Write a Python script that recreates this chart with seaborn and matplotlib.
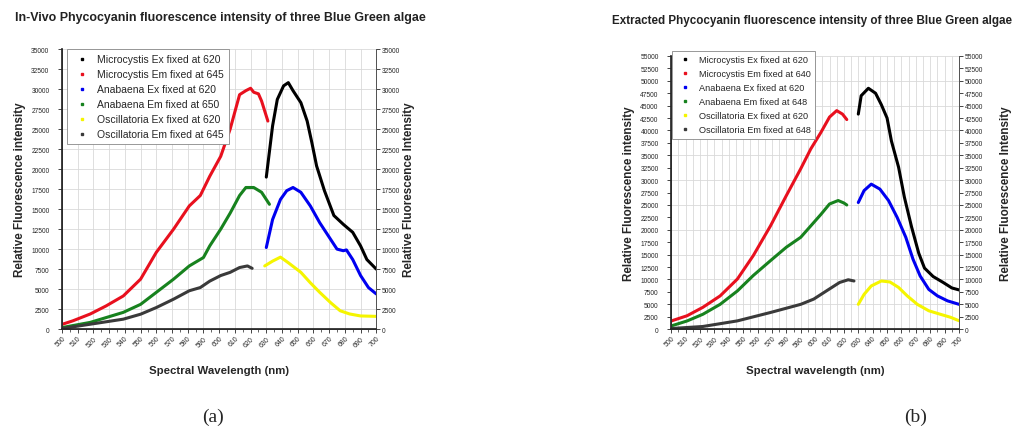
import matplotlib
matplotlib.use("Agg")
import matplotlib.pyplot as plt
from matplotlib.lines import Line2D
from matplotlib.ticker import MultipleLocator
import seaborn as sns

sns.set_theme(style="ticks")
plt.rcParams['font.family'] = ['Liberation Sans', 'DejaVu Sans']

# ---- (a) In-Vivo data ----
a_mic_em_x = [500, 507, 518, 528, 539, 550, 560, 571, 581, 588, 594, 601, 607, 613, 617, 620, 622, 625, 627, 631]
a_mic_em_y = [600, 1050, 1900, 2900, 4150, 6250, 9600, 12500, 15400, 16700, 19100, 21600, 25000, 29300, 29800, 30100, 29600, 29400, 28500, 26000]
a_ana_em_x = [500, 518, 539, 550, 560, 571, 581, 590, 594, 601, 607, 613, 617, 622, 627, 632]
a_ana_em_y = [200, 850, 2100, 3100, 4600, 6250, 7900, 8950, 10400, 12500, 14500, 16700, 17700, 17700, 17100, 15600]
a_osc_em_x = [500, 518, 539, 550, 560, 571, 581, 588, 594, 601, 607, 613, 618, 621]
a_osc_em_y = [80, 620, 1250, 1870, 2700, 3750, 4800, 5200, 6000, 6700, 7100, 7700, 7900, 7600]
a_mic_ex_x = [630, 634, 637, 641, 644, 647, 652, 656, 659, 662, 667, 673, 679, 685, 690, 694, 700]
a_mic_ex_y = [19000, 25400, 28700, 30400, 30800, 29800, 28300, 26000, 23300, 20400, 17300, 14200, 13100, 12100, 10400, 8700, 7500]
a_ana_ex_x = [630, 634, 639, 643, 647, 652, 658, 664, 671, 675, 679, 681, 685, 690, 695, 700]
a_ana_ex_y = [10200, 13700, 16200, 17300, 17700, 17100, 15400, 13300, 11200, 10000, 9800, 9900, 8700, 6700, 5200, 4400]
a_osc_ex_x = [629, 634, 639, 644, 652, 658, 664, 671, 677, 683, 690, 700]
a_osc_ex_y = [7900, 8500, 9000, 8300, 7100, 5800, 4600, 3300, 2300, 1900, 1650, 1600]
a_labels = ['Microcystis Ex fixed at 620', 'Microcystis Em fixed at 645', 'Anabaena Ex fixed at 620',
            'Anabaena Em fixed at 650', 'Oscillatoria Ex fixed at 620', 'Oscillatoria Em fixed at 645']

# ---- (b) Extracted data ----
b_mic_em_x = [500, 511, 522, 534, 546, 557, 569, 580, 590, 597, 604, 610, 615, 619, 622]
b_mic_em_y = [1650, 2700, 4400, 6700, 10100, 14800, 20800, 26900, 32300, 36300, 39600, 42700, 44000, 43300, 42200]
b_ana_em_x = [500, 511, 522, 534, 546, 557, 569, 580, 590, 597, 604, 610, 616, 620, 622]
b_ana_em_y = [650, 1650, 3000, 5000, 7700, 10800, 13800, 16500, 18500, 20800, 23100, 25200, 25900, 25400, 25000]
b_osc_em_x = [500, 522, 546, 569, 590, 599, 608, 617, 623, 627]
b_osc_em_y = [130, 540, 1670, 3360, 5000, 6050, 7730, 9400, 9950, 9700]
b_mic_ex_x = [630, 632, 637, 642, 646, 650, 653, 658, 662, 667, 672, 676, 682, 689, 695, 700]
b_mic_ex_y = [43300, 47000, 48500, 47500, 45200, 42500, 37900, 32600, 26600, 20600, 15300, 12300, 10600, 9400, 8300, 7900]
b_ana_ex_x = [630, 634, 639, 645, 651, 657, 663, 668, 673, 679, 685, 692, 700]
b_ana_ex_y = [25500, 27900, 29200, 28200, 25900, 22500, 18500, 14100, 10700, 8000, 6700, 5700, 5000]
b_osc_ex_x = [630, 634, 639, 646, 652, 658, 664, 671, 679, 687, 694, 700]
b_osc_ex_y = [5000, 7000, 8700, 9700, 9500, 8400, 6700, 5000, 3700, 3000, 2400, 1700]
b_labels = ['Microcystis Ex fixed at 620', 'Microcystis Em fixed at 640', 'Anabaena Ex fixed at 620',
            'Anabaena Em fixed at 648', 'Oscillatoria Ex fixed at 620', 'Oscillatoria Em fixed at 648']

# legend order: Mic Ex, Mic Em, Ana Ex, Ana Em, Osc Ex, Osc Em
colors = ['#000000', '#e8101e', '#0000f0', '#17821e', '#f5f500', '#3a3a3a']


def draw_panel(rect, series, labels, ymax, hgrid, vgrid, title, title_x, title_y, title_size,
               xlabel, leg_anchor, leg_size, rpad):
    ax = fig.add_axes(rect)
    for (xs, ys), c in zip(series, colors):
        sns.lineplot(x=xs, y=ys, ax=ax, color=c, lw=2.2, legend=False)
    ax.set_xlim(500, 700)
    ax.set_ylim(0, ymax)
    ax.xaxis.set_major_locator(MultipleLocator(10))
    ax.xaxis.set_minor_locator(MultipleLocator(5))
    ax.yaxis.set_major_locator(MultipleLocator(2500))
    for v in range(500, 701, vgrid):
        ax.axvline(v, color='#d9d9d9', lw=0.6, zorder=0)
    for h in range(0, ymax + 1, hgrid):
        ax.axhline(h, color='#d9d9d9', lw=0.6, zorder=0)
    ax.tick_params(axis='x', which='major', labelsize=5, length=3, width=0.6, pad=1)
    ax.tick_params(axis='x', which='minor', length=2, width=0.5)
    ax.tick_params(axis='y', labelsize=4.8, length=3, width=0.6, pad=6)
    for lab in ax.get_xticklabels():
        lab.set_rotation(45)
        lab.set_ha('right')
        lab.set_rotation_mode('anchor')
    ax.spines['top'].set_visible(False)
    for s in ['left', 'bottom', 'right']:
        ax.spines[s].set_color('#555555')
        ax.spines[s].set_linewidth(0.7)
    ax.set_xlabel(xlabel, fontsize=8.2, fontweight='bold', labelpad=12)
    ax.set_ylabel('Relative Fluorescence intensity', fontsize=8.4, fontweight='bold', labelpad=4)

    ax2 = ax.twinx()
    ax2.set_ylim(0, ymax)
    ax2.yaxis.set_major_locator(MultipleLocator(2500))
    ax2.tick_params(axis='y', labelsize=4.8, length=3, width=0.6, pad=1)
    ax2.spines['top'].set_visible(False)
    ax2.spines['right'].set_color('#555555')
    ax2.spines['right'].set_linewidth(0.7)
    ax2.set_ylabel('Relative Fluorescence Intensity', fontsize=8.4, fontweight='bold', labelpad=rpad)

    handles = [Line2D([], [], ls='none', marker='s', markersize=1.8, color=c) for c in colors]
    leg = ax2.legend(handles, labels, loc='upper left', bbox_to_anchor=leg_anchor, fontsize=leg_size,
                     frameon=True, fancybox=False, edgecolor='#888888', framealpha=1,
                     handlelength=1.8, handletextpad=0.6, labelspacing=0.52 * 6.9 / leg_size,
                     borderpad=0.5, borderaxespad=0)
    leg.get_frame().set_linewidth(0.6)

    fig.text(title_x, title_y, title, ha='left', va='center', fontsize=title_size,
             fontweight='bold', color='#222222')
    return ax


fig = plt.figure(figsize=(10.17, 4.35), dpi=100)

draw_panel([0.061, 0.241, 0.309, 0.644],
           [(a_mic_ex_x, a_mic_ex_y), (a_mic_em_x, a_mic_em_y), (a_ana_ex_x, a_ana_ex_y),
            (a_ana_em_x, a_ana_em_y), (a_osc_ex_x, a_osc_ex_y), (a_osc_em_x, a_osc_em_y)],
           a_labels, 35000, 2500, 10,
           'In-Vivo Phycocyanin fluorescence intensity of three Blue Green algae', 0.015, 0.958, 8.9,
           'Spectral Wavelength (nm)', (0.016, 1.0), 7.5, 2)

draw_panel([0.660, 0.241, 0.283, 0.628],
           [(b_mic_ex_x, b_mic_ex_y), (b_mic_em_x, b_mic_em_y), (b_ana_ex_x, b_ana_ex_y),
            (b_ana_em_x, b_ana_em_y), (b_osc_ex_x, b_osc_ex_y), (b_osc_em_x, b_osc_em_y)],
           b_labels, 55000, 5000, 5,
           'Extracted Phycocyanin fluorescence intensity of three Blue Green algae', 0.602, 0.952, 8.4,
           'Spectral wavelength (nm)', (0.004, 1.02), 6.6, 12)

fig.text(0.209, 0.04, '(a)', ha='center', va='center', fontsize=14, family='Liberation Serif')
fig.text(0.900, 0.04, '(b)', ha='center', va='center', fontsize=14, family='Liberation Serif')

plt.savefig('out.png', dpi=100)
